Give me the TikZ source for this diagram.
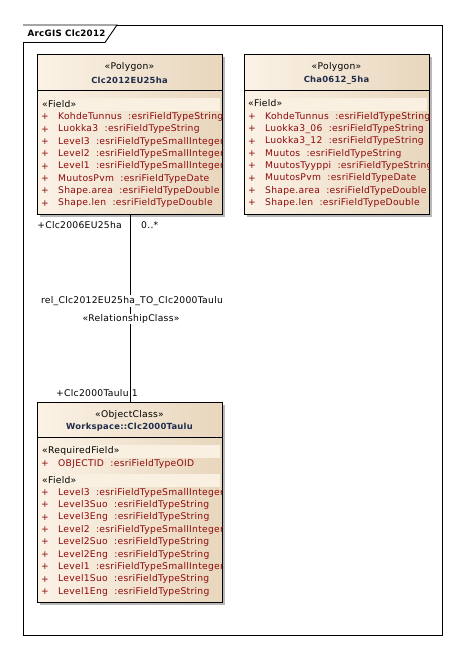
\documentclass[tikz,border=0pt]{standalone}
\usepackage{fontspec}
\setmainfont{DejaVu Sans}[LetterSpace=3]
\usetikzlibrary{positioning,shadows}
\definecolor{boxleft}{HTML}{FBF2E6}
\definecolor{boxright}{HTML}{E8D6BD}
\definecolor{bandfill}{HTML}{FAF0E2}
\definecolor{attrred}{HTML}{8E0A0A}
\definecolor{namenavy}{HTML}{1E2B4A}
\tikzset{
 umlbox/.style={draw,line width=0.9pt,anchor=north west,inner sep=0,left color=boxleft,right color=boxright,
  drop shadow={shadow xshift=3pt,shadow yshift=-3pt,fill=black!28,opacity=1}},
 band/.style={fill=bandfill,draw=none},
 attr/.style={anchor=west,inner sep=0,text=attrred},
 stereo/.style={inner sep=0},
 cname/.style={inner sep=0,text=namenavy,font=\fontsize{8.4}{10}\selectfont\bfseries},
 rolelabel/.style={inner sep=0}
}
\begin{document}
\begin{tikzpicture}[x=1pt,y=-1pt,font=\fontsize{9.2}{11}\selectfont,line join=miter]
 \useasboundingbox (0,0) rectangle (468,659);
 % package frame
 \draw[line width=0.9pt] (23,25) rectangle (442,635);
 \draw[line width=0.9pt,fill=white] (23,25) -- (117,25) -- (105,42.5) -- (23,42.5);
 \node[anchor=west,inner sep=0,font=\fontsize{8.7}{10}\selectfont\bfseries] (pkg) at (27.5,33.5) {ArcGIS Clc2012};
 % class boxes
 \node[umlbox,minimum width=185pt,minimum height=160pt] (clc2012) at (37,54) {};
 \node[umlbox,minimum width=185pt,minimum height=160pt] (cha0612) at (244,54) {};
 \node[umlbox,minimum width=185pt,minimum height=200pt] (taulu) at (37,402) {};
 % headers
 \node[stereo] (st1) at (129.5,67) {«Polygon»};
 \node[cname] (nm1) at (129.5,80) {Clc2012EU25ha};
 \node[stereo] (st2) at (336.5,67) {«Polygon»};
 \node[cname] (nm2) at (336.5,80) {Cha0612\_5ha};
 \node[stereo] (st3) at (129.5,415) {«ObjectClass»};
 \node[cname] (nm3) at (129.5,427.5) {Workspace::Clc2000Taulu};
 \draw[line width=0.9pt] (37,90) -- (222,90);
 \draw[line width=0.9pt] (244,90.5) -- (429,90.5);
 \draw[line width=0.9pt] (37,437) -- (222,437);
 % Clc2012EU25ha attributes
 \begin{scope}
 \clip (37,54) rectangle (222,214);
 \fill[band] (40,97.5) rectangle (220,110.5);
 \node[anchor=west,inner sep=0] (f1) at (42,104.5) {«Field»};
 \foreach \fname/\ftype [count=\i from 0] in {KohdeTunnus/String,Luokka3/String,Level3/SmallInteger,
   Level2/SmallInteger,Level1/SmallInteger,MuutosPvm/Date,Shape.area/Double,Shape.len/Double}{
  \node[attr] (p1\i) at (41,117+12.35*\i) {+};
  \node[attr] (a1\i) at (58,117+12.35*\i) {\fname\ \ :esriFieldType\ftype};
 }
 \end{scope}
 % Cha0612_5ha attributes
 \begin{scope}
 \clip (244,54) rectangle (429,214);
 \fill[band] (247,97.5) rectangle (427,110.5);
 \node[anchor=west,inner sep=0] (f2) at (248,103.5) {«Field»};
 \foreach \fname/\ftype [count=\i from 0] in {KohdeTunnus/String,Luokka3\_06/String,Luokka3\_12/String,
   Muutos/String,MuutosTyyppi/String,MuutosPvm/Date,Shape.area/Double,Shape.len/Double}{
  \node[attr] (p2\i) at (248,116.5+12.35*\i) {+};
  \node[attr] (a2\i) at (265,116.5+12.35*\i) {\fname\ \ :esriFieldType\ftype};
 }
 \end{scope}
 % Clc2000Taulu attributes
 \begin{scope}
 \clip (37,402) rectangle (222,602);
 \fill[band] (41,444.5) rectangle (220,457.5);
 \fill[band] (41,473.5) rectangle (220,486.5);
 \node[anchor=west,inner sep=0] (f3) at (42,451) {«RequiredField»};
 \node[attr] (p3r) at (41,464) {+};
 \node[attr] (a3r) at (58,464) {OBJECTID\ \ :esriFieldTypeOID};
 \node[anchor=west,inner sep=0] (f4) at (42,480) {«Field»};
 \foreach \fname/\ftype [count=\i from 0] in {Level3/SmallInteger,Level3Suo/String,Level3Eng/String,
   Level2/SmallInteger,Level2Suo/String,Level2Eng/String,Level1/SmallInteger,Level1Suo/String,Level1Eng/String}{
  \node[attr] (p3\i) at (41,492.5+12.4*\i) {+};
  \node[attr] (a3\i) at (58,492.5+12.4*\i) {\fname\ \ :esriFieldType\ftype};
 }
 \end{scope}
 % relationship
 \draw[line width=0.9pt] (clc2012.south) -- (taulu.north);
 \node[rolelabel,anchor=east] (src) at (122,225) {+Clc2006EU25ha};
 \node[rolelabel,anchor=west] (srcm) at (141,225) {0..*};
 \node[rolelabel,fill=white,inner sep=1pt] (rel) at (132,301) {rel\_Clc2012EU25ha\_TO\_Clc2000Taulu};
 \node[rolelabel,fill=white,inner sep=1pt] (relst) at (131,319) {«RelationshipClass»};
 \node[rolelabel,anchor=west] (dst) at (56,393) {+Clc2000Taulu 1};
\end{tikzpicture}
\end{document}
